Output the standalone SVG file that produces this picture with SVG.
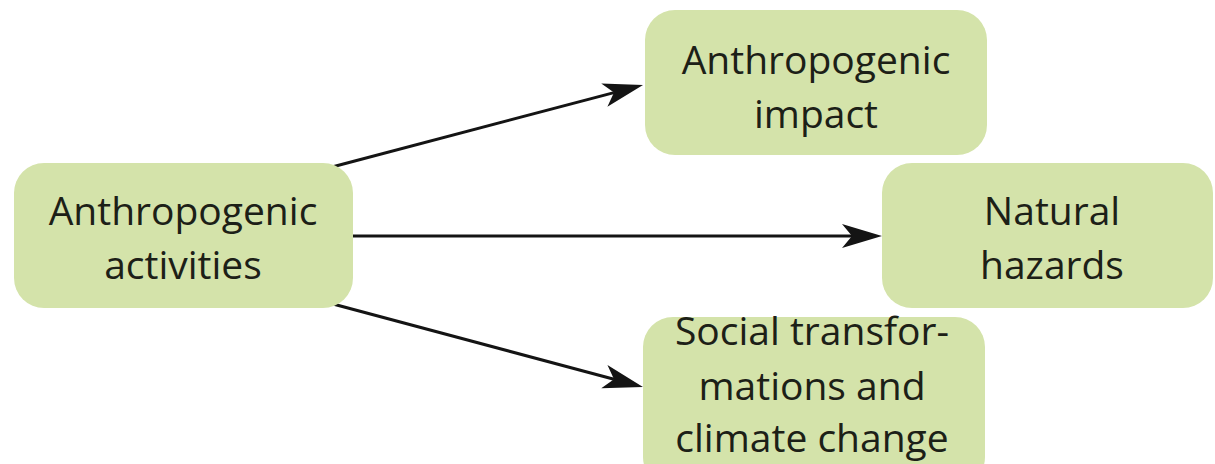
<svg xmlns="http://www.w3.org/2000/svg" width="1215" height="464" viewBox="0 0 1215 464">
  <style>
    .box { fill: #d4e3aa; }
    .lbl { font-family: "Open Sans", "Liberation Sans", sans-serif; font-size: 39px; fill: #1c2017; text-anchor: middle; }
    .edge { stroke: #141414; stroke-width: 3; fill: none; }
  </style>
  <defs>
    <marker id="arrow" markerUnits="userSpaceOnUse" viewBox="0 0 40 26" refX="10" refY="13" markerWidth="40" markerHeight="26" orient="auto">
      <path d="M0,1 L40,13 L0,25 L10,13 Z" fill="#141414"/>
    </marker>
  </defs>
  <rect width="1215" height="464" fill="#ffffff"/>

  <g id="connectors">
    <line class="edge" x1="332" y1="167" x2="614" y2="92.6" marker-end="url(#arrow)"/>
    <line class="edge" x1="353" y1="236" x2="852" y2="236" marker-end="url(#arrow)"/>
    <line class="edge" x1="333" y1="304" x2="614" y2="379.2" marker-end="url(#arrow)"/>
  </g>

  <g id="node-activities">
    <rect class="box" x="14" y="163" width="339" height="145" rx="30"/>
    <text class="lbl" x="183" y="225">Anthropogenic</text>
    <text class="lbl" x="183" y="279">activities</text>
  </g>

  <g id="node-impact">
    <rect class="box" x="645" y="10" width="342" height="145" rx="30"/>
    <text class="lbl" x="816" y="74">Anthropogenic</text>
    <text class="lbl" x="816" y="128">impact</text>
  </g>

  <g id="node-hazards">
    <rect class="box" x="882" y="163" width="331" height="145" rx="30"/>
    <text class="lbl" x="1052" y="225">Natural</text>
    <text class="lbl" x="1052" y="279">hazards</text>
  </g>

  <g id="node-social">
    <rect class="box" x="643" y="317" width="342" height="170" rx="30"/>
    <text class="lbl" x="812" y="345">Social transfor-</text>
    <text class="lbl" x="812" y="400">mations and</text>
    <text class="lbl" x="812" y="452">climate change</text>
  </g>
</svg>
